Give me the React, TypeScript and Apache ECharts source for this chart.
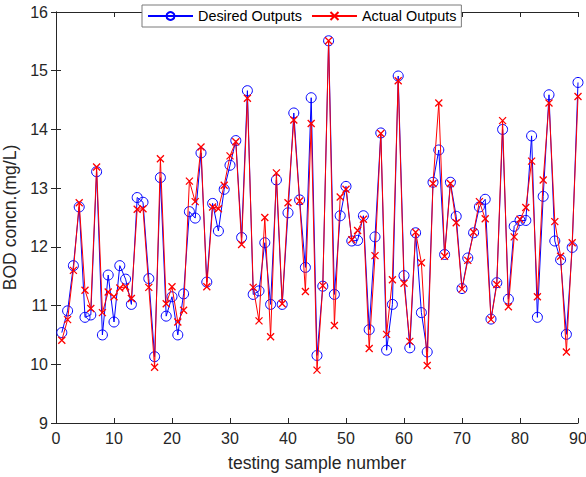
import React, { useEffect, useRef } from "react";
import * as echarts from "echarts";

const sampleNumbers: number[] = Array.from({ length: 90 }, (_, i) => i + 1);

const desiredOutputs: number[] = [
  10.54, 10.91, 11.68, 12.68, 10.8, 10.84, 13.28, 10.5, 11.52, 10.72,
  11.68, 11.45, 11.02, 12.84, 12.76, 11.46, 10.13, 13.18, 10.82, 11.15,
  10.5, 11.2, 12.6, 12.49, 13.6, 11.4, 12.74, 12.27, 12.98, 13.39,
  13.81, 12.16, 14.66, 11.19, 11.25, 12.07, 11.02, 13.14, 11.02, 12.58,
  14.28, 12.8, 11.65, 14.54, 10.15, 11.33, 15.51, 11.19, 12.53, 13.03,
  12.1, 12.11, 12.53, 10.59, 12.17, 13.94, 10.24, 11.02, 14.91, 11.51,
  10.28, 12.24, 10.88, 10.21, 13.1, 13.65, 11.87, 13.1, 12.52, 11.29,
  11.81, 12.24, 12.68, 12.81, 10.77, 11.39, 14.0, 11.11, 12.35, 12.45,
  12.45, 13.89, 10.8, 12.86, 14.59, 12.1, 11.78, 10.51, 11.99, 14.8,
];

const actualOutputs: number[] = [
  10.41, 10.76, 11.6, 12.75, 11.26, 10.95, 13.36, 10.88, 11.23, 11.15,
  11.3, 11.32, 11.12, 12.64, 12.65, 11.31, 9.95, 13.5, 11.03, 11.32,
  10.72, 10.92, 13.12, 12.77, 13.7, 11.32, 12.68, 12.65, 13.05, 13.55,
  13.79, 12.04, 14.53, 11.31, 10.74, 12.5, 10.47, 13.26, 11.03, 12.75,
  14.16, 12.78, 11.24, 14.1, 9.9, 11.34, 15.51, 10.66, 12.85, 12.98,
  12.12, 12.28, 12.47, 10.27, 11.85, 13.93, 10.51, 11.44, 14.83, 11.38,
  10.39, 12.25, 11.73, 9.98, 13.08, 14.45, 11.84, 13.08, 12.41, 11.28,
  11.77, 12.25, 12.77, 12.48, 10.76, 11.36, 14.15, 10.98, 12.17, 12.47,
  12.67, 13.46, 11.15, 13.14, 14.45, 12.43, 11.84, 10.21, 12.07, 14.56,
];

const seriesNames: string[] = ["Desired Outputs", "Actual Outputs"];
const xAxisTitle = "testing sample number";
const yAxisTitle = "BOD concn.(mg/L)";

const FONT = "'Liberation Sans', Arial, Helvetica, sans-serif";
const INK = "#262626";

export default function App() {
  const ref = useRef<HTMLDivElement | null>(null);

  useEffect(() => {
    if (!ref.current) return;
    const chart = echarts.init(ref.current, null, { renderer: "svg" });

    const desiredData = sampleNumbers.map((x, i) => [x, desiredOutputs[i]]);
    const actualData = sampleNumbers.map((x, i) => [x, actualOutputs[i]]);

    const axisCommon = {
      axisLine: { show: true, lineStyle: { color: INK, width: 1 } },
      axisTick: { show: true, inside: true, length: 5, lineStyle: { color: INK } },
      splitLine: { show: false },
    };

    chart.setOption({
      animation: false,
      backgroundColor: "#ffffff",
      textStyle: { fontFamily: FONT },
      grid: {
        left: 56,
        right: 8,
        top: 12,
        bottom: 54,
        containLabel: false,
        outerBoundsMode: "none",
      },
      legend: {
        data: seriesNames,
        left: 142,
        top: 5,
        itemWidth: 45,
        itemHeight: 10,
        itemGap: 9,
        padding: [4, 5, 4, 5],
        backgroundColor: "#ffffff",
        borderColor: "#7a7a7a",
        borderWidth: 1,
        borderRadius: 0,
        textStyle: { fontSize: 14.4, color: "#000000", fontFamily: FONT },
      },
      xAxis: [
        {
          type: "value",
          min: 0,
          max: 90,
          interval: 10,
          position: "bottom",
          name: xAxisTitle,
          nameLocation: "middle",
          nameGap: 31,
          nameTextStyle: { fontSize: 17.6, color: INK, fontFamily: FONT },
          axisLabel: { fontSize: 16, color: INK, margin: 7, fontFamily: FONT },
          ...axisCommon,
        },
        {
          type: "value",
          min: 0,
          max: 90,
          interval: 10,
          position: "top",
          axisLabel: { show: false },
          ...axisCommon,
        },
      ],
      yAxis: [
        {
          type: "value",
          min: 9,
          max: 16,
          interval: 1,
          position: "left",
          name: yAxisTitle,
          nameLocation: "middle",
          nameGap: 30,
          nameTextStyle: { fontSize: 17.6, color: INK, fontFamily: FONT },
          axisLabel: { fontSize: 16, color: INK, margin: 8, fontFamily: FONT },
          ...axisCommon,
        },
        {
          type: "value",
          min: 9,
          max: 16,
          interval: 1,
          position: "right",
          axisLabel: { show: false },
          ...axisCommon,
        },
      ],
      series: [
        {
          name: seriesNames[0],
          type: "line",
          data: desiredData,
          symbol: "circle",
          symbolSize: 10,
          showAllSymbol: true,
          lineStyle: { color: "#0000ff", width: 1 },
          itemStyle: { color: "rgba(0,0,0,0)", borderColor: "#0000ff", borderWidth: 1 },
          emphasis: { disabled: true },
          z: 2,
        },
        {
          name: seriesNames[1],
          type: "line",
          data: actualData,
          symbol: "path://M0,0L10,10M10,0L0,10",
          symbolSize: 7,
          showAllSymbol: true,
          lineStyle: { color: "#ff0000", width: 1 },
          itemStyle: { color: "rgba(0,0,0,0)", borderColor: "#ff0000", borderWidth: 1.3 },
          emphasis: { disabled: true },
          z: 3,
        },
      ],
    });

    return () => {
      chart.dispose();
    };
  }, []);

  return (
    <div
      ref={ref}
      style={{ position: "fixed", left: 0, top: 0, width: 586, height: 477, background: "#fff" }}
    />
  );
}
